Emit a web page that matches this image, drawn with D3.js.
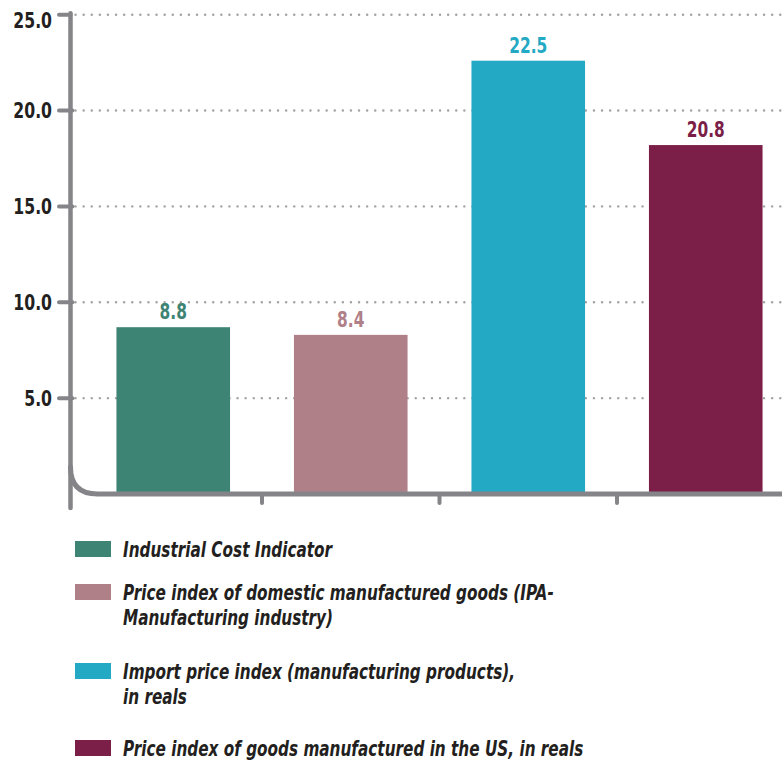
<!DOCTYPE html>
<html><head><meta charset="utf-8">
<script src="https://cdn.jsdelivr.net/npm/d3@7"></script>
<style>
html,body{margin:0;padding:0;background:#fff;}
svg{display:block;}
.nf{font-family:"Liberation Sans Narrow","Arial Narrow","DejaVu Sans Condensed",sans-serif;font-stretch:condensed;}
</style></head>
<body>
<svg id="chart" width="782" height="762"></svg>
<script>
// ---- data ----
const categories = ["Industrial Cost Indicator", "Price index of domestic manufactured goods (IPA-Manufacturing industry)", "Import price index (manufacturing products), in reals", "Price index of goods manufactured in the US, in reals"];
const barValues = [8.7, 8.3, 22.6, 18.2];          // bar heights as drawn
const labelTexts = ["8.8", "8.4", "22.5", "20.8"];  // printed value labels
const colors = ["#3d8474", "#b08088", "#24a9c4", "#7b1f48"];
const yTicks = [5, 10, 15, 20, 25];
const yTickLabels = ["5.0", "10.0", "15.0", "20.0", "25.0"];
const legendLines = [
  ["Industrial Cost Indicator"],
  ["Price index of domestic manufactured goods (IPA-", "Manufacturing industry)"],
  ["Import price index (manufacturing products),", "in reals"],
  ["Price index of goods manufactured in the US, in reals"]
];

// ---- layout ----
const svg = d3.select("#chart");
const axisX = 70.5, baseY = 494, right = 782;
const y = d3.scaleLinear().domain([0, 25]).range([baseY, 14.7]);
const x = d3.scaleBand().domain(categories).range([84.5, 794.5]).paddingInner(0.36).paddingOuter(0.18);
const axisColor = "#858589";
const textColor = "#231f20";
const squeeze = 0.8; // horizontal condensing of the font

// gridlines (dotted)
svg.append("g").selectAll("line").data(yTicks).join("line")
  .attr("x1", axisX + 5).attr("x2", right)
  .attr("y1", d => y(d)).attr("y2", d => y(d))
  .attr("stroke", "#a3a3a3").attr("stroke-width", 2.4)
  .attr("stroke-linecap", "round").attr("stroke-dasharray", "0.1,8");

// bars
svg.append("g").selectAll("rect").data(categories).join("rect")
  .attr("x", d => x(d)).attr("width", x.bandwidth())
  .attr("y", (d, i) => y(barValues[i]))
  .attr("height", (d, i) => y(0) - y(barValues[i]))
  .attr("fill", (d, i) => colors[i]);

// value labels
svg.append("g").selectAll("text").data(categories).join("text")
  .attr("class", "nf")
  .attr("transform", (d, i) => `translate(${x(d) + x.bandwidth() / 2},${y(barValues[i]) - 8}) scale(${squeeze - 0.02},1)`)
  .attr("text-anchor", "middle")
  .attr("font-size", 22).attr("font-weight", "bold")
  .attr("fill", (d, i) => colors[i])
  .text((d, i) => labelTexts[i]);

// axes
const ax = svg.append("g").attr("fill", "none").attr("stroke", axisColor).attr("stroke-linecap", "round");
ax.append("line").attr("x1", axisX).attr("x2", axisX).attr("y1", y(25) - 1.5).attr("y2", 508).attr("stroke-width", 4.5);
ax.append("line").attr("x1", 59).attr("x2", axisX).attr("y1", y(25)).attr("y2", y(25)).attr("stroke-width", 4);
ax.selectAll("line.yt").data(yTicks.slice(0, -1)).join("line").attr("class", "yt")
  .attr("x1", 59).attr("x2", axisX + 2).attr("y1", d => y(d)).attr("y2", d => y(d)).attr("stroke-width", 4);
const r = 27;
ax.append("path")
  .attr("d", `M${axisX},${baseY - r} Q${axisX},${baseY} ${axisX + r},${baseY} L${right + 5},${baseY}`)
  .attr("stroke-width", 5);
const bounds = categories.slice(1).map(d => x(d) - x.step() * x.paddingInner() / 2);
ax.selectAll("line.xt").data(bounds).join("line").attr("class", "xt")
  .attr("x1", d => d).attr("x2", d => d).attr("y1", baseY).attr("y2", 503).attr("stroke-width", 4);

// y tick labels
svg.append("g").selectAll("text").data(yTicks).join("text")
  .attr("class", "nf")
  .attr("transform", d => `translate(52,${Math.max(y(d), 20)}) scale(${squeeze + 0.03},1)`)
  .attr("dy", "0.36em")
  .attr("text-anchor", "end").attr("font-size", 21).attr("font-weight", "bold")
  .attr("fill", textColor)
  .text((d, i) => yTickLabels[i]);

// legend
const legendBaselines = [557, 600, 679, 756];
const lg = svg.append("g");
legendLines.forEach((lines, i) => {
  const b = legendBaselines[i];
  lg.append("rect").attr("x", 75).attr("y", b - 16).attr("width", 36).attr("height", 16).attr("fill", colors[i]);
  const t = lg.append("text").attr("class", "nf")
    .attr("transform", `translate(123,${b}) scale(${squeeze - 0.01},1)`)
    .attr("font-size", 21.5).attr("font-weight", "bold").attr("font-style", "italic").attr("fill", textColor);
  lines.forEach((ln, j) => t.append("tspan").attr("x", 0).attr("y", j * 25).text(ln));
});
</script>
</body></html>
